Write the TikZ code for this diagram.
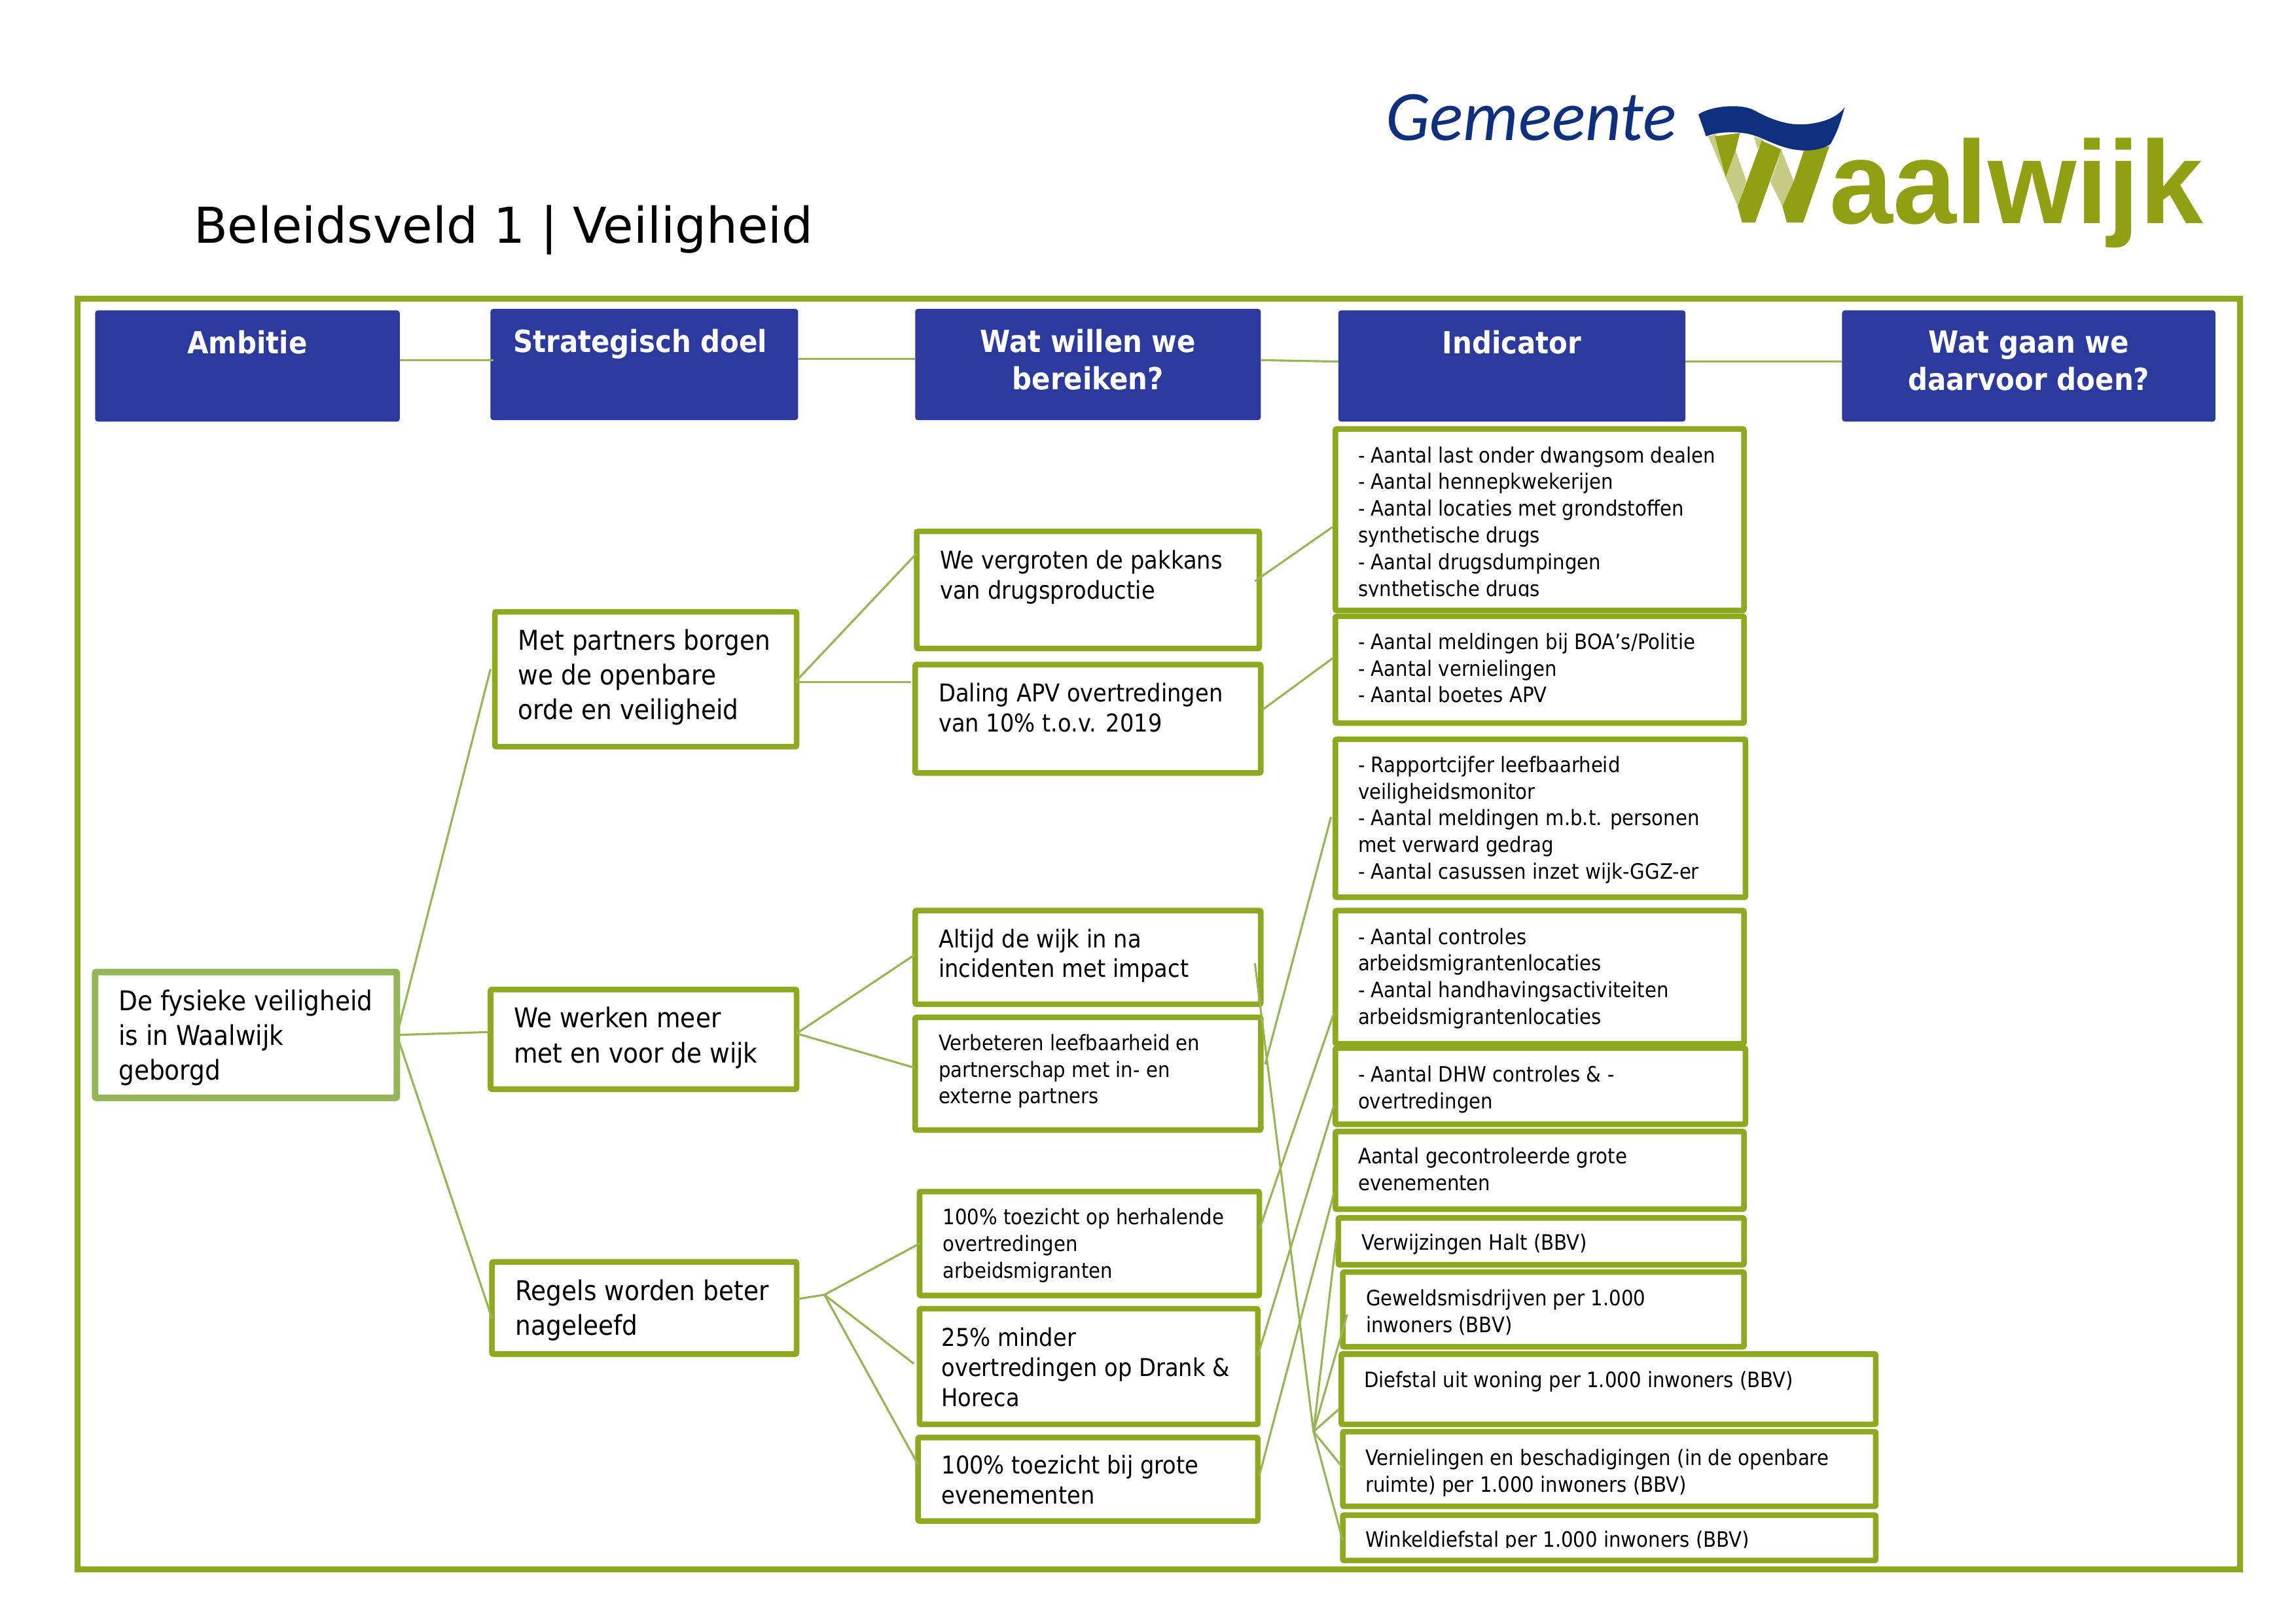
\documentclass[tikz,border=0pt]{standalone}
\usepackage{fontspec}
\setmainfont{DejaVu Sans}
\newfontfamily\nar[FakeStretch=0.9]{DejaVu Sans}
\newfontfamily\logofont{Liberation Sans}
\newfontfamily\gemfont{Carlito}
\definecolor{olv}{HTML}{8CA91F}
\definecolor{lnk}{HTML}{96B654}
\definecolor{amb}{HTML}{93B758}
\definecolor{hdr}{HTML}{2C3A9E}
\definecolor{logoblue}{HTML}{0F2F7F}
\definecolor{logoolv}{HTML}{919F12}
\definecolor{logolight}{HTML}{C6CB83}
\usetikzlibrary{calc}
\tikzset{
 x=0.53693pt,y=-0.53693pt,
 conn/.style={draw=lnk,line width=0.75pt},
 gbox/.style={draw=olv,line width=2.05pt,fill=white,rectangle,rounded corners=0.5pt,outer sep=0pt,inner sep=0pt,anchor=north west,align=left},
 ambbox/.style={gbox,draw=amb,line width=2.4pt},
 hbox/.style={fill=hdr,rectangle,rounded corners=1pt,outer sep=0pt,inner sep=0pt,anchor=north west,text=white,font=\nar\fontsize{11.18}{13.6}\selectfont\bfseries,align=center},
 large/.style={font=\nar\fontsize{10}{12.75}\selectfont},
 med/.style={font=\nar\fontsize{9}{11}\selectfont},
 small/.style={font=\nar\fontsize{7.78}{9.8}\selectfont},
 logow/.style={inner sep=0pt,anchor=base west},
 shape W/.style={shift={(1153.2,62.58)},x=0.08pt,y=-0.08pt},
}
% name, x1,y1,x2,y2 (stroke centres), padx, pady(top), style, text
\newcommand{\gb}[9]{%
 \pgfmathsetlengthmacro{\bw}{(#4-#2)*0.53693pt}%
 \pgfmathsetlengthmacro{\bh}{(#5-#3)*0.53693pt}%
 \pgfmathsetlengthmacro{\px}{#6*0.53693pt}%
 \pgfmathsetlengthmacro{\py}{#7*0.53693pt}%
 \node[gbox,#8] (#1) at (#2,#3) {\hspace*{\px}\parbox[c][\bh][t]{\dimexpr\bw-\px\relax}{\vspace*{\py}\raggedright #9}};%
}
\newcommand{\hb}[6]{%
 \pgfmathsetlengthmacro{\bw}{(#4-#2)*0.53693pt}%
 \pgfmathsetlengthmacro{\bh}{(#5-#3)*0.53693pt}%
 \node[hbox] (#1) at (#2,#3) {\parbox[c][\bh][t]{\bw}{\centering\vspace*{7.5pt}#6}};%
}
\begin{document}
\begin{tikzpicture}
\useasboundingbox (0,0) rectangle (1568,1108.96);
\fill[white] (0,0) rectangle (1568,1108.96);
% title
\node[anchor=base west,inner sep=0pt,font=\fontsize{18.13}{22}\selectfont] (title) at (132,166) {Beleidsveld 1 | Veiligheid};
% frame
\node[draw=olv,line width=2.2pt,rectangle,outer sep=0pt,inner sep=0pt,anchor=north west] (frame) at (53,204) {\parbox[c][466pt][c]{793pt}{\mbox{}}};
% headers
\hb{h1}{65}{212}{273}{288}{Ambitie}
\hb{h2}{335}{211}{545}{287}{\hspace*{-3pt}Strategisch doel}
\hb{h3}{625}{211}{861}{287}{Wat willen we\\bereiken?}
\hb{h4}{914}{212}{1151}{288}{Indicator}
\hb{h5}{1258}{212}{1513}{288}{Wat gaan we\\daarvoor doen?}
\draw[conn] ([shift={(0,-4)}]h1.east) -- ([shift={(2,-3)}]h2.west);
\draw[conn] ([shift={(0,-4)}]h2.east) -- ([shift={(0,-4)}]h3.west);
\draw[conn] ([shift={(0,-3)}]h3.east) -- ([shift={(0,-3)}]h4.west);
\draw[conn] ([shift={(0,-3)}]h4.east) -- ([shift={(0,-3)}]h5.west);
% level boxes
\gb{amb}{65}{664}{271}{750}{16}{12}{ambbox,large}{De fysieke veiligheid\\is in Waalwijk\\geborgd}
\gb{s1}{338}{418}{544}{510}{16}{12}{large}{Met partners borgen\\we de openbare\\orde en veiligheid}
\gb{s2}{335}{676}{544}{744}{16}{12}{large}{We werken meer\\met en voor de wijk}
\gb{s3}{336}{862}{544}{925}{16}{12}{large}{Regels worden beter\\nageleefd}
\gb{w1}{626}{363}{860}{443}{16}{13}{med}{We vergroten de pakkans\\van drugsproductie}
\gb{w2}{625}{454}{861}{528}{16}{12.5}{med}{Daling APV overtredingen\\van 10\% t.o.v. 2019}
\gb{w3}{625}{622}{861}{686}{16}{12.5}{med}{Altijd de wijk in na\\incidenten met impact}
\gb{w4}{625}{695}{861}{772}{16}{11.5}{small}{Verbeteren leefbaarheid en\\partnerschap met in- en\\externe partners}
\gb{w5}{628}{814}{860}{885}{16}{11.5}{small}{100\% toezicht op herhalende\\overtredingen\\arbeidsmigranten}
\gb{w6}{628}{894}{859}{973}{15}{13}{med}{25\% minder\\overtredingen op Drank \&\\Horeca}
\gb{w7}{627}{982}{859}{1039}{16}{12}{med}{100\% toezicht bij grote\\evenementen}
\gb{i1}{912}{293}{1191}{417}{15.5}{12}{small}{- Aantal last onder dwangsom dealen\\- Aantal hennepkwekerijen\\- Aantal locaties met grondstoffen\\synthetische drugs\\- Aantal drugsdumpingen\\synthetische drugs}
\gb{i2}{912}{421}{1191}{494}{15.5}{11.5}{small}{- Aantal meldingen bij BOA’s/Politie\\- Aantal vernielingen\\- Aantal boetes APV}
\gb{i3}{912}{505}{1192}{613}{15.5}{11.5}{small}{- Rapportcijfer leefbaarheid\\veiligheidsmonitor\\- Aantal meldingen m.b.t. personen\\met verward gedrag\\- Aantal casussen inzet wijk-GGZ-er}
\gb{i4}{912}{622}{1191}{713}{15.5}{12}{small}{- Aantal controles\\arbeidsmigrantenlocaties\\- Aantal handhavingsactiviteiten\\arbeidsmigrantenlocaties}
\gb{i5}{912}{716}{1192}{768}{15.5}{12}{small}{- Aantal DHW controles \& -\\overtredingen}
\gb{i6}{912}{773}{1191}{826}{15.5}{11}{small}{Aantal gecontroleerde grote\\evenementen}
\gb{i7}{914}{832}{1191}{864}{16}{11}{small}{Verwijzingen Halt (BBV)}
\gb{i8}{917}{869}{1191}{920}{16}{12}{small}{Geweldsmisdrijven per 1.000\\inwoners (BBV)}
\gb{i9}{916}{925}{1281}{973}{15.5}{12}{small}{Diefstal uit woning per 1.000 inwoners (BBV)}
\gb{i10}{917}{978}{1281}{1029}{15.5}{12}{small}{Vernielingen en beschadigingen (in de openbare\\ruimte) per 1.000 inwoners (BBV)}
\gb{i11}{917}{1035}{1281}{1066}{15.5}{11}{small}{Winkeldiefstal per 1.000 inwoners (BBV)}
% cut-off text
\fill[white] (921,407.5) rectangle (1186,414.5);
\fill[white] (921,1057.5) rectangle (1277,1063);
% connectors
\draw[conn] (amb.east) -- ([shift={(-3,-7)}]s1.west);
\draw[conn] (amb.east) -- ([shift={(-1,-5)}]s2.west);
\draw[conn] (amb.east) -- ([shift={(0,7)}]s3.west);
\draw[conn] ([shift={(-1,2)}]s1.east) coordinate (j1) -- ([shift={(0,-25)}]w1.west);
\draw[conn] (j1) -- ([shift={(-3,-25)}]w2.west);
\draw[conn] ([shift={(0,-4)}]s2.east) coordinate (j2) -- ([shift={(0,-2)}]w3.west);
\draw[conn] (j2) -- ([shift={(0,-4)}]w4.west);
\draw[conn] ([shift={(0,-6)}]s3.east) -- ++(19,-3) coordinate (j3);
\draw[conn] (j3) -- (w5.west);
\draw[conn] (j3) -- ([shift={(-4,-2)}]w6.west);
\draw[conn] (j3) -- ([shift={(0,-10)}]w7.west);
\draw[conn] ([shift={(-3,-6)}]w1.east) -- ([shift={(-2,5)}]i1.west);
\draw[conn] ([shift={(1,-6)}]w2.east) -- ([shift={(-1,-8.5)}]i2.west);
\draw[conn] ([shift={(3,-6.5)}]w4.east) -- ([shift={(-3,-1)}]i3.west);
\draw[conn] ([shift={(0,-9.5)}]w5.east) -- ([shift={(-1,24.5)}]i4.west);
\draw[conn] ([shift={(0,-7.5)}]w6.east) -- ([shift={(-1,13)}]i5.west);
\draw[conn] ([shift={(1,-2.5)}]w7.east) -- ([shift={(-1,15.5)}]i6.west);
\coordinate (fan) at (897,978);
\draw[conn] ([shift={(-4,4)}]w3.east) -- (fan);
\draw[conn] (fan) -- ([shift={(-1.5,-1)}]i7.west);
\draw[conn] (fan) -- ([shift={(3,3.5)}]i8.west);
\draw[conn] (fan) -- ([shift={(-2,14)}]i9.west);
\draw[conn] (fan) -- ([shift={(0,-1)}]i10.west);
\draw[conn] (fan) -- ([shift={(0,2)}]i11.west);
% logo
\node[logow,text=logoblue,font=\gemfont\itshape\fontsize{26}{26}\selectfont,xscale=0.985,yscale=1.0] (gem) at (946,96) {Gemeente};
\node[logow,text=logoolv,font=\logofont\bfseries\fontsize{33}{33}\selectfont,xscale=1.265,yscale=1.31] (waal) at (1249,152.7) {aalwijk};
\begin{scope}[shape W]
\fill[logolight] (90,205) -- (125,195) -- (170,392) -- (215,270) -- (265,410) -- (225,525) -- cycle;
\fill[logolight] (425,268) -- (482,410) -- (430,525) -- (375,415) -- cycle;
\fill[logolight] (300,205) -- (345,222) -- (316,262) -- cycle;
\fill[logoolv] (120,205) -- (235,190) -- (215,270) -- (170,392) -- cycle;
\fill[logoolv] (245,600) -- (305,600) -- (425,265) -- (335,225) -- (225,525) -- cycle;
\fill[logoolv] (450,600) -- (525,600) -- (645,250) -- (530,265) -- (482,410) -- (430,525) -- cycle;
\fill[logoblue] (45,105) .. controls (90,70) and (230,50) .. (300,85) .. controls (370,125) and (450,155) .. (530,150) .. controls (610,145) and (680,120) .. (715,72) .. controls (700,130) and (680,190) .. (650,240) .. controls (610,270) and (540,275) .. (480,265) .. controls (400,250) and (340,210) .. (280,195) .. controls (210,180) and (130,185) .. (80,205) -- cycle;
\end{scope}
\end{tikzpicture}
\end{document}
